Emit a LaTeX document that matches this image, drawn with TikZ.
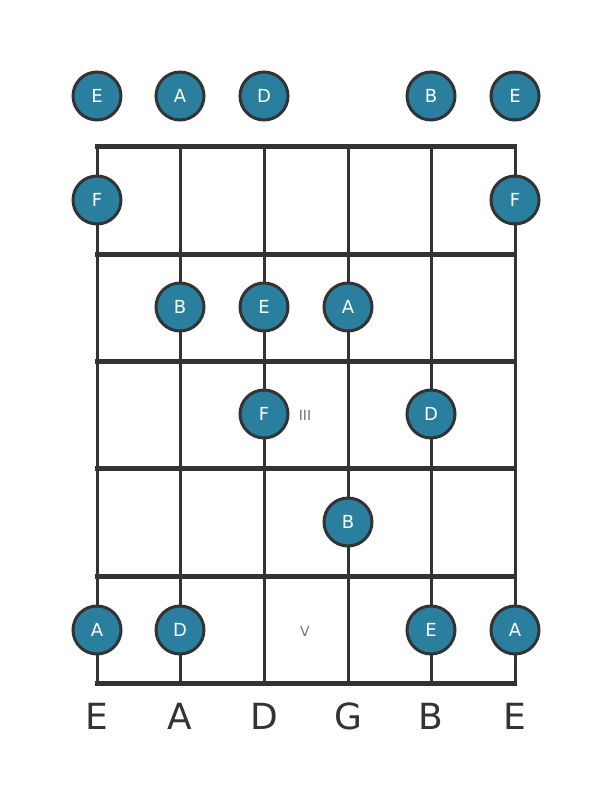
\documentclass[tikz,border=0pt]{standalone}
\usepackage{fontspec}
\setmainfont{DejaVu Sans}
\definecolor{notefill}{HTML}{2A7F9E}
\definecolor{boardline}{HTML}{333333}

\begin{document}
\begin{tikzpicture}[x=0.75pt,y=-0.75pt,
	note/.style={circle,draw=boardline,line width=2.25pt,fill=notefill,minimum size=36pt,inner sep=0,text=white,font=\fontsize{13.5}{16}\selectfont},
	marker/.style={text=black!55,font=\fontsize{10.5}{12}\selectfont},
	stringname/.style={text=boardline,font=\fontsize{27}{32}\selectfont}]
	\useasboundingbox (0,0) rectangle (611,801);
	% strings
	\foreach \x in {97,180,264,348,431,515}
		\draw [boardline,line width=2.25pt] (\x,146) -- (\x,683);
	% nut and frets
	\foreach \y in {146,254,361,468,576,683}
		\draw [boardline,line width=3.75pt] (95,\y) -- (517,\y);
	% fret markers
	\node [marker] (mIII) at (305,415) {III};
	\node [marker] (mV) at (305,631) {V};
	% open strings
	\node [note] (o1) at (97,96) {E};
	\node [note] (o2) at (180,96) {A};
	\node [note] (o3) at (264,96) {D};
	\node [note] (o5) at (431,96) {B};
	\node [note] (o6) at (515,96) {E};
	% fret 1
	\node [note] (f1s1) at (97,200) {F};
	\node [note] (f1s6) at (515,200) {F};
	% fret 2
	\node [note] (f2s2) at (180,307) {B};
	\node [note] (f2s3) at (264,307) {E};
	\node [note] (f2s4) at (348,307) {A};
	% fret 3
	\node [note] (f3s3) at (264,414) {F};
	\node [note] (f3s5) at (431,414) {D};
	% fret 4
	\node [note] (f4s4) at (348,522) {B};
	% fret 5
	\node [note] (f5s1) at (97,630) {A};
	\node [note] (f5s2) at (180,630) {D};
	\node [note] (f5s5) at (431,630) {E};
	\node [note] (f5s6) at (515,630) {A};
	% tuning
	\foreach \x/\s [count=\i] in {97/E,180/A,264/D,348/G,431/B,515/E}
		\node [stringname] (t\i) at (\x,716) {\s};
\end{tikzpicture}
\end{document}
